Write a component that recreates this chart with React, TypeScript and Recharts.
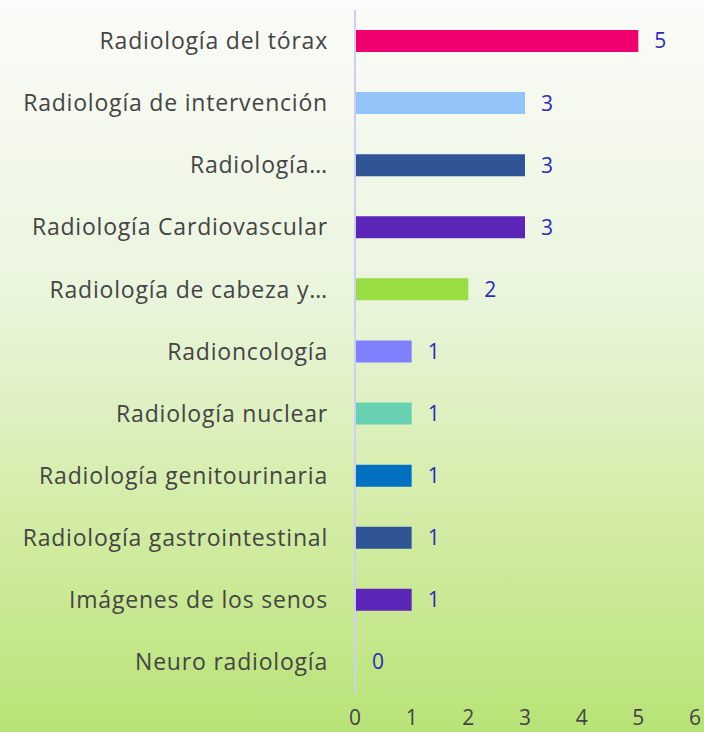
import React from "react";
import { BarChart, Bar, XAxis, YAxis, Cell, LabelList } from "recharts";

const categories = [
  "Radiología del tórax",
  "Radiología de intervención",
  "Radiología…",
  "Radiología Cardiovascular",
  "Radiología de cabeza y…",
  "Radioncología",
  "Radiología nuclear",
  "Radiología genitourinaria",
  "Radiología gastrointestinal",
  "Imágenes de los senos",
  "Neuro radiología",
];
const values = [5, 3, 3, 3, 2, 1, 1, 1, 1, 1, 0];
const colors = [
  "#f0006e",
  "#93c3f7",
  "#2f5597",
  "#5b25b8",
  "#99dd44",
  "#8080ff",
  "#66d0b0",
  "#0070c0",
  "#2f5597",
  "#5b25b8",
  "transparent",
];
const xTicks = [0, 1, 2, 3, 4, 5, 6];

const data = categories.map((name, i) => ({ name, value: values[i] }));

const FONT = "'Open Sans', sans-serif";

export default function App() {
  return (
    <div
      style={{
        position: "absolute",
        top: 0,
        left: 0,
        width: 704,
        height: 732,
        background: "linear-gradient(to bottom, #fbfbf9 0%, #eaf5dd 40%, #cfeb9e 75%, #b8e377 100%)",
        fontFamily: FONT,
      }}
    >
      <BarChart
        width={704}
        height={732}
        data={data}
        layout="vertical"
        margin={{ top: 10, right: 9, bottom: 0, left: 0 }}
        barSize={22}
      >
        <XAxis
          type="number"
          domain={[0, 6]}
          ticks={xTicks}
          axisLine={false}
          tickLine={false}
          tickSize={0}
          tickMargin={17}
          height={39}
          tick={{ fill: "#444444", fontSize: 21, fontFamily: FONT }}
          interval={0}
        />
        <YAxis
          type="category"
          dataKey="name"
          width={355}
          axisLine={{ stroke: "#cfcff5", strokeWidth: 2 }}
          tickLine={false}
          tickSize={0}
          tickMargin={27}
          interval={0}
          tick={{ fill: "#444444", fontSize: 23, fontFamily: FONT, letterSpacing: 0.8 }}
        />
        <Bar dataKey="value" isAnimationActive={false} minPointSize={1}>
          {data.map((d, i) => (
            <Cell key={i} fill={colors[i]} />
          ))}
          <LabelList
            dataKey="value"
            position="right"
            offset={16}
            fill="#2b2bbf"
            fontSize={21}
            fontFamily={FONT}
          />
        </Bar>
      </BarChart>
    </div>
  );
}
